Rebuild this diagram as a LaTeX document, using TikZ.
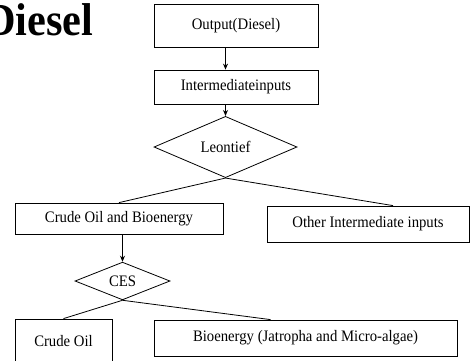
\documentclass[tikz,border=0pt]{standalone}
\usepackage{fontspec}
\setmainfont{Liberation Serif}[FakeStretch=0.92]
\usetikzlibrary{shapes.geometric,arrows.meta}
\tikzset{
  box/.style={draw,line width=0.8pt,inner sep=0pt,font=\fontsize{16}{18}\selectfont},
  dia/.style={draw,diamond,line width=0.8pt,inner sep=0pt,font=\fontsize{16}{18}\selectfont},
  arr/.style={line width=0.8pt,-{Stealth[length=6pt,width=5pt]}},
  ln/.style={line width=0.8pt}
}
\begin{document}
\begin{tikzpicture}[x=1pt,y=-1pt]
\useasboundingbox (0,0) rectangle (476,360);
\node[anchor=base east,font=\fontsize{46}{46}\bfseries\selectfont] (title) at (97,35) {Diesel};
\node[box,minimum width=164pt,minimum height=43pt] (out) at (236,25.5) {Output(Diesel)};
\node[box,minimum width=164pt,minimum height=34pt] (inter) at (236,87) {Intermediateinputs};
\node[dia,minimum width=143pt,minimum height=38pt] (leon) at (225.5,147) {Leontief};
\node[box,minimum width=208pt,minimum height=31pt] (crude) at (119,218.5) {Crude Oil and Bioenergy};
\node[box,minimum width=202pt,minimum height=36pt] (other) at (368,224) {Other Intermediate inputs};
\node[dia,minimum width=95pt,minimum height=28pt] (ces) at (122.5,281) {CES};
\node[box,minimum width=97pt,minimum height=44pt] (oil) at (63.5,341) {Crude Oil};
\node[box,minimum width=303pt,minimum height=36pt] (bio) at (305.5,338) {Bioenergy (Jatropha and Micro-algae)};
% arrows and branch lines
\draw[arr] (out.south -| leon) -- (inter.north -| leon);
\draw[arr] (inter.south -| leon) -- (leon.north);
\draw[ln] (leon.south) -- (crude.north);
\draw[ln] (leon.south) -- ([xshift=25pt]other.north);
\draw[arr] (crude.south -| ces) -- (ces.north);
\draw[ln] (ces.south) -- (oil.north);
\draw[ln] (ces.south) -- ([xshift=-35pt]bio.north);
\end{tikzpicture}
\end{document}
